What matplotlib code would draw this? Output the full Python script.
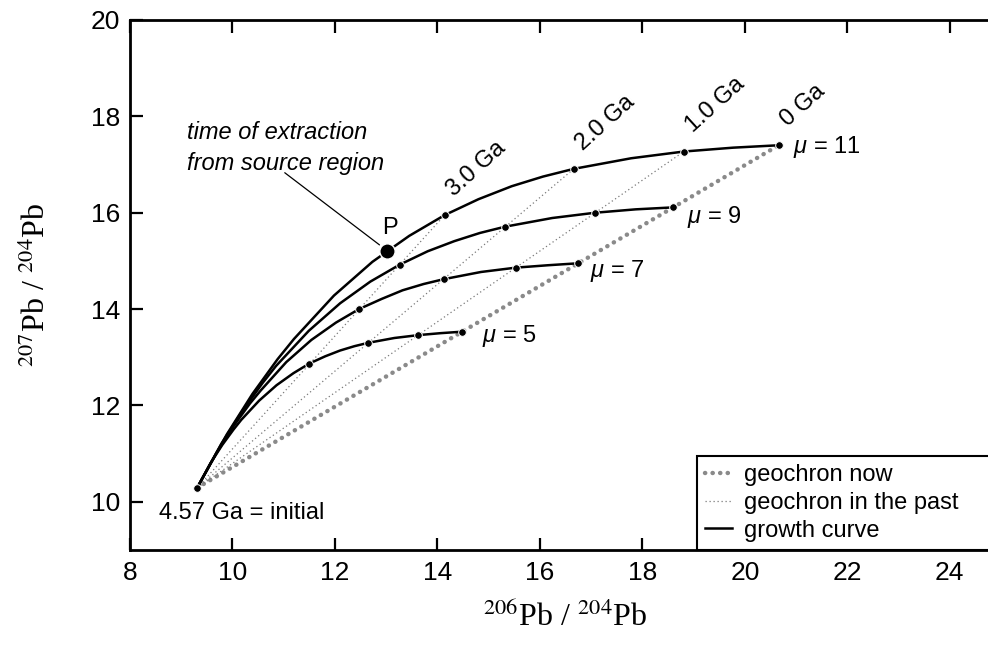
import numpy as np
import matplotlib.pyplot as plt
from matplotlib.lines import Line2D

plt.rcParams['font.family'] = ['Liberation Sans', 'DejaVu Sans']
plt.rcParams['mathtext.fontset'] = 'custom'
plt.rcParams['mathtext.rm'] = 'Liberation Sans'
plt.rcParams['mathtext.it'] = 'Liberation Sans:italic'

ages = [4.57, 4.4, 4.25, 4.1, 4.0, 3.75, 3.5, 3.25, 3.0,
        2.75, 2.5, 2.25, 2.0, 1.5, 1.0, 0.5, 0.0]
marked_ages = [3.0, 2.0, 1.0, 0.0]
ga_labels = ['3.0 Ga', '2.0 Ga', '1.0 Ga', '0 Ga']

#initial lead composition (4.57 Ga)
init_x = 9.31
init_y = 10.29

#206Pb/204Pb and 207Pb/204Pb along each growth curve
mu5_x = [9.31, 9.57, 9.80, 10.02, 10.17, 10.52, 10.86, 11.19, 11.50,
         11.81, 12.10, 12.38, 12.65, 13.16, 13.63, 14.06, 14.47]
mu5_y = [10.29, 10.80, 11.18, 11.50, 11.70, 12.10, 12.42, 12.67, 12.87,
         13.02, 13.14, 13.23, 13.30, 13.40, 13.46, 13.50, 13.53]
mu7_x = [9.31, 9.69, 10.02, 10.34, 10.55, 11.05, 11.54, 12.02, 12.47,
         12.91, 13.32, 13.73, 14.12, 14.85, 15.53, 16.16, 16.74]
mu7_y = [10.29, 11.02, 11.57, 12.04, 12.31, 12.90, 13.36, 13.72, 14.00,
         14.21, 14.39, 14.52, 14.62, 14.77, 14.86, 14.91, 14.95]
mu9_x = [9.31, 9.78, 10.19, 10.59, 10.85, 11.49, 12.10, 12.69, 13.26,
         13.81, 14.33, 14.83, 15.32, 16.24, 17.08, 17.87, 18.59]
mu9_y = [10.29, 11.20, 11.88, 12.47, 12.82, 13.55, 14.12, 14.57, 14.92,
         15.20, 15.41, 15.58, 15.71, 15.89, 16.00, 16.07, 16.11]
mu11_x = [9.31, 9.89, 10.39, 10.88, 11.20, 11.98, 12.73, 13.45, 14.14,
          14.80, 15.45, 16.06, 16.66, 17.78, 18.81, 19.77, 20.66]
mu11_y = [10.29, 11.40, 12.24, 12.96, 13.38, 14.28, 14.98, 15.52, 15.95,
          16.28, 16.55, 16.75, 16.91, 17.13, 17.27, 17.35, 17.40]

curves_x = [mu5_x, mu7_x, mu9_x, mu11_x]
curves_y = [mu5_y, mu7_y, mu9_y, mu11_y]
mu_labels = [r'$\mu$ = 5', r'$\mu$ = 7', r'$\mu$ = 9', r'$\mu$ = 11']

#point P (time of extraction)
p_x = 13.02
p_y = 15.21

fig = plt.figure(figsize=(9.88, 6.64), dpi=100)
ax = fig.add_axes([0.1316, 0.1717, 0.8816, 0.7982])

grey = '#8a8a8a'
idx = [ages.index(t) for t in marked_ages]

#geochron now: from the initial point to the present-day points
i0 = ages.index(0.0)
ax.plot([init_x, mu11_x[i0]], [init_y, mu11_y[i0]], color=grey, lw=3.2,
        linestyle=(0, (0.05, 1.65)), dash_capstyle='round', zorder=1)
#geochrons in the past
for t in [3.0, 2.0, 1.0]:
    i = ages.index(t)
    ax.plot([init_x, mu11_x[i]], [init_y, mu11_y[i]], color='#7a7a7a',
            lw=0.9, linestyle=(0, (1, 2.2)), zorder=1)

#growth curves and their age markers
for cx, cy in zip(curves_x, curves_y):
    ax.plot(cx, cy, color='black', lw=1.8, zorder=2)
    ax.plot([cx[i] for i in idx], [cy[i] for i in idx], 'o', color='black',
            ms=5.5, mec='white', mew=0.7, zorder=3)
ax.plot(init_x, init_y, 'o', color='black', ms=5.5, mec='white', mew=0.7,
        zorder=3)

#point P and its note
ax.plot(p_x, p_y, 'o', color='black', ms=11, mec='white', mew=1, zorder=4)
ax.text(13.07, 15.69, 'P', fontsize=17, ha='center', va='center')
ax.annotate('', xy=(p_x, p_y), xytext=(11.02, 16.83),
            arrowprops=dict(arrowstyle='-', color='black', lw=0.9,
                            shrinkA=0, shrinkB=7))
ax.text(9.11, 17.35, 'time of extraction\nfrom source region',
        style='italic', fontsize=17, ha='left', va='center',
        linespacing=1.45)
ax.text(8.57, 9.76, '4.57 Ga = initial', fontsize=17, ha='left',
        va='center')

#age labels along the mu = 11 curve
for i, lab in zip(idx, ga_labels):
    ax.annotate(lab, xy=(mu11_x[i], mu11_y[i]), xytext=(6.5, 13),
                textcoords='offset points', fontsize=17, rotation=42,
                rotation_mode='anchor', ha='left', va='baseline')

#mu labels at the end of each curve
mu_pos = [(14.87, 13.44), (16.98, 14.79), (18.87, 15.92), (20.94, 17.37)]
for (lx, ly), lab in zip(mu_pos, mu_labels):
    ax.text(lx, ly, lab, fontsize=17, ha='left', va='center')

ax.set_xlim(8, 25)
ax.set_ylim(9, 20)
ax.set_xticks(np.arange(8, 25, 2))
ax.set_yticks(np.arange(10, 21, 2))
ax.tick_params(direction='in', length=9, width=1.6, top=True, right=True,
               labelsize=19)
ax.tick_params(axis='x', pad=8)
ax.tick_params(axis='y', pad=7)
for sp in ax.spines.values():
    sp.set_linewidth(2)

ax.set_xlabel(r'$^{206}$Pb / $^{204}$Pb', family='Liberation Serif',
              fontsize=23, math_fontfamily='stix', labelpad=12)
ax.set_ylabel(r'$^{207}$Pb / $^{204}$Pb', family='Liberation Serif',
              fontsize=23, math_fontfamily='stix', labelpad=28)

handles = [Line2D([], [], color=grey, lw=3.2, linestyle=(0, (0.05, 1.65)),
                  dash_capstyle='round'),
           Line2D([], [], color='#7a7a7a', lw=0.9, linestyle=(0, (1, 2.2))),
           Line2D([], [], color='black', lw=1.8)]
leg = ax.legend(handles, ['geochron now', 'geochron in the past',
                          'growth curve'],
                loc='lower left', bbox_to_anchor=(0.651, 0, 0.349, 0.18),
                mode='expand', borderaxespad=0, fontsize=17, fancybox=False,
                framealpha=1, edgecolor='black', handlelength=1.15,
                handletextpad=0.5, labelspacing=0.24, borderpad=0.35)
leg.get_frame().set_linewidth(1.5)

plt.savefig('out.png', dpi=100)
